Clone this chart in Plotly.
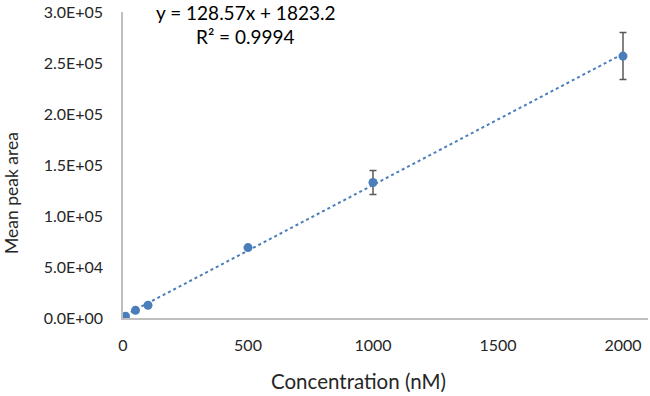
import plotly.graph_objects as go

concentration = [10, 50, 100, 500, 1000, 2000]
mean_area = [1800, 7500, 12500, 69000, 132800, 256800]
error = [0, 0, 0, 0, 11700, 23000]
slope = 128.57
intercept = 1823.2
r_squared = 0.9994

x_ticks = [0, 500, 1000, 1500, 2000]
y_ticks = [0, 50000, 100000, 150000, 200000, 250000, 300000]
y_tick_labels = ["0.0E+00", "5.0E+04", "1.0E+05", "1.5E+05", "2.0E+05", "2.5E+05", "3.0E+05"]

blue = "#4A7EBB"
font_family = "Lato, 'Open Sans', sans-serif"
text_color = "#262626"

W, H = 650, 396
ML, MR, MT, MB = 123, 2, 12, 78
PW, PH = W - ML - MR, H - MT - MB


def px_to_paper(px, py):
    return (px - ML) / PW, (H - MB - py) / PH


trend_x = [min(concentration), max(concentration)]
trend_y = [slope * v + intercept for v in trend_x]

fig = go.Figure()
fig.add_trace(go.Scatter(
    x=trend_x, y=trend_y, mode="lines",
    line=dict(color=blue, width=2, dash="dot"),
    hoverinfo="skip", showlegend=False,
))
fig.add_trace(go.Scatter(
    x=concentration, y=mean_area, mode="markers",
    marker=dict(color=blue, size=9),
    error_y=dict(type="data", array=error, visible=True, color="#595959",
                 thickness=1.5, width=3.5),
    showlegend=False,
))

fig.add_annotation(x=488, y=300000, xref="x", yref="y",
                   text=f"y = {slope}x + {intercept}", showarrow=False,
                   font=dict(size=19, color="#000000", family=font_family))
fig.add_annotation(x=488, y=275600, xref="x", yref="y",
                   text=f"R² = {r_squared}", showarrow=False,
                   font=dict(size=19, color="#000000", family=font_family))

# axis titles
tx, ty = px_to_paper(358, 381)
fig.add_annotation(x=tx, y=ty, xref="paper", yref="paper",
                   xanchor="center", yanchor="middle",
                   text="Concentration (nM)", showarrow=False,
                   font=dict(size=20.5, color=text_color, family=font_family))
tx, ty = px_to_paper(11, 193)
fig.add_annotation(x=tx, y=ty, xref="paper", yref="paper",
                   xanchor="center", yanchor="middle", textangle=-90,
                   text="Mean peak area", showarrow=False,
                   font=dict(size=17.5, color=text_color, family=font_family))

fig.update_layout(
    width=W, height=H,
    margin=dict(l=ML, r=MR, t=MT, b=MB, autoexpand=False),
    paper_bgcolor="white", plot_bgcolor="white",
    font=dict(family=font_family, color=text_color),
    xaxis=dict(
        range=[0, 2100], tickvals=x_ticks, ticktext=[str(v) for v in x_ticks],
        showgrid=False, zeroline=False, showline=True, linecolor="#BFBFBF",
        linewidth=1.5, ticks="", tickfont=dict(size=16, color=text_color),
        ticklabelstandoff=12, automargin=False,
    ),
    yaxis=dict(
        range=[0, 300000], tickvals=y_ticks, ticktext=y_tick_labels,
        showgrid=False, zeroline=False, showline=True, linecolor="#BFBFBF",
        linewidth=1.5, ticks="", tickfont=dict(size=16, color=text_color),
        ticklabelstandoff=15, automargin=False,
    ),
)

fig.write_html("out.html", config={"displayModeBar": False},
               post_script="document.body.style.margin='0';document.body.style.padding='0';")
